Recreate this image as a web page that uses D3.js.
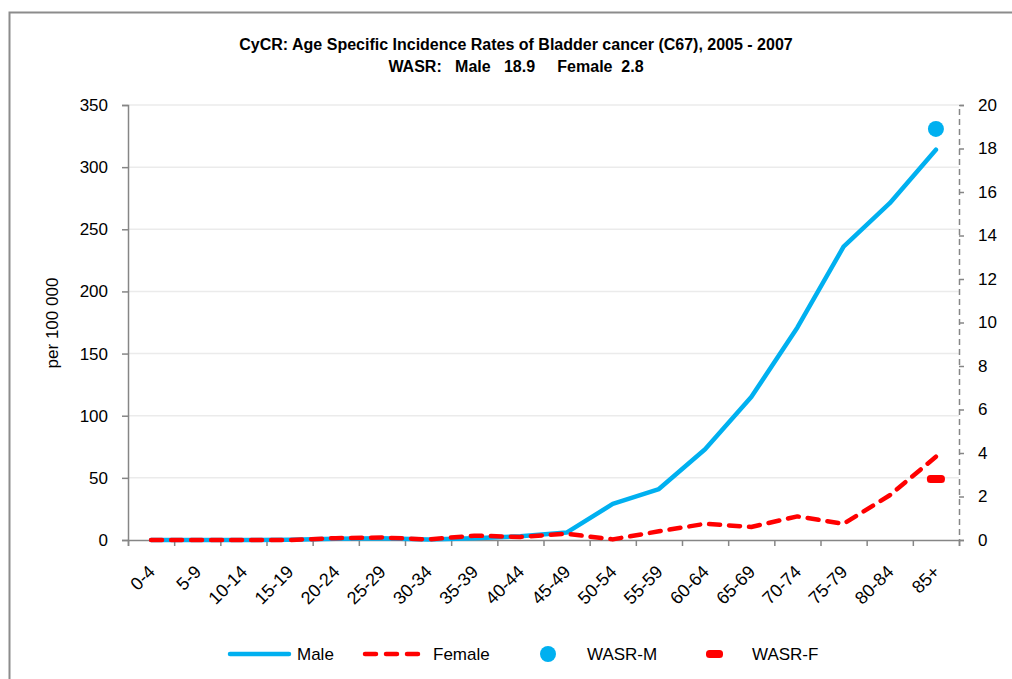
<!DOCTYPE html>
<html>
<head>
<meta charset="utf-8">
<script src="https://cdn.jsdelivr.net/npm/d3@7"></script>
<style>
  body { margin: 0; background: #fff; }
  svg text { font-family: "Liberation Sans", Arial, sans-serif; fill: #000; }
</style>
</head>
<body>
<div id="chart"></div>
<script>
// Data
var ageGroups = ["0-4", "5-9", "10-14", "15-19", "20-24", "25-29", "30-34", "35-39", "40-44",
    "45-49", "50-54", "55-59", "60-64", "65-69", "70-74", "75-79", "80-84", "85+"];
var maleRates = [0, 0, 0, 0.3, 1, 1.5, 0.5, 1.5, 3, 6, 29, 41, 73, 115, 171, 236, 271, 314];
var femaleRates = [0, 0, 0, 0, 1.5, 2, 0.5, 3.5, 2.5, 5, 0.5, 7, 13, 10.5, 19, 13, 36, 67];
var wasrMale = 18.9;
var wasrFemale = 2.8;
var leftTicks = [0, 50, 100, 150, 200, 250, 300, 350];
var rightTicks = [0, 2, 4, 6, 8, 10, 12, 14, 16, 18, 20];

var width = 1012, height = 679;
var plot = {left: 128, right: 959, top: 105, bottom: 540};
var blue = "#00b0f0", red = "#ff0000", axisGrey = "#868686";

var svg = d3.select("#chart").append("svg")
    .attr("width", width)
    .attr("height", height);

svg.append("rect").attr("width", width).attr("height", height).attr("fill", "#fff");

// outer frame (right and bottom edges fall outside the picture)
svg.append("rect")
    .attr("x", 9.5).attr("y", 12.5)
    .attr("width", 1100).attr("height", 800)
    .attr("fill", "none")
    .attr("stroke", "#8c8c8c")
    .attr("stroke-width", 2);

var x = d3.scaleBand().domain(ageGroups).range([plot.left, plot.right]);
var xEdges = d3.scaleLinear().domain([0, ageGroups.length]).range([plot.left, plot.right]);
var yLeft = d3.scaleLinear().domain([0, 350]).range([plot.bottom, plot.top]);
var yRight = d3.scaleLinear().domain([0, 20]).range([plot.bottom, plot.top]);

function cx(d) { return x(d) + x.bandwidth() / 2; }

// Title
svg.append("text")
    .attr("x", 516).attr("y", 50)
    .attr("text-anchor", "middle")
    .style("font-weight", "bold").style("font-size", "16px")
    .text("CyCR:  Age Specific Incidence Rates of Bladder cancer (C67), 2005 - 2007");
svg.append("text")
    .attr("x", 516).attr("y", 72)
    .attr("text-anchor", "middle")
    .style("font-weight", "bold").style("font-size", "16px")
    .attr("xml:space", "preserve")
    .text("WASR:   Male   18.9     Female  2.8");

// Gridlines
svg.append("g").selectAll("line")
    .data(leftTicks.slice(1))
    .join("line")
    .attr("x1", plot.left).attr("x2", plot.right)
    .attr("y1", function(d) { return yLeft(d); })
    .attr("y2", function(d) { return yLeft(d); })
    .attr("stroke", "#ebebeb")
    .attr("stroke-width", 1.5);

// Left axis
var gLeft = svg.append("g")
    .attr("transform", "translate(" + plot.left + ",0)")
    .call(d3.axisLeft(yLeft).tickValues(leftTicks).tickSize(6).tickPadding(14));
gLeft.selectAll("path, line").attr("stroke", axisGrey).attr("stroke-width", 1.5);
gLeft.selectAll("text").style("font-size", "17px").style("font-family", "Liberation Sans, Arial, sans-serif").attr("fill", "#000");

svg.append("text")
    .attr("transform", "translate(58,323) rotate(-90)")
    .attr("text-anchor", "middle")
    .style("font-size", "17px")
    .text("per 100 000");

// Right axis, dashed
var gRight = svg.append("g")
    .attr("transform", "translate(" + plot.right + ",0)")
    .call(d3.axisRight(yRight).tickValues(rightTicks).tickSize(5).tickPadding(14));
gRight.selectAll("path, line").attr("stroke", axisGrey).attr("stroke-width", 1.5);
gRight.select(".domain").attr("stroke-dasharray", "6,4");
gRight.selectAll("text").style("font-size", "17px").style("font-family", "Liberation Sans, Arial, sans-serif").attr("fill", "#000");

// Bottom axis: ticks between categories
var gBottom = svg.append("g")
    .attr("transform", "translate(0," + plot.bottom + ")")
    .call(d3.axisBottom(xEdges).tickValues(d3.range(ageGroups.length + 1)).tickSize(6).tickFormat(""));
gBottom.selectAll("path, line").attr("stroke", axisGrey).attr("stroke-width", 1.5);

svg.append("g").selectAll("text")
    .data(ageGroups)
    .join("text")
    .attr("text-anchor", "end")
    .attr("transform", function(d) { return "translate(" + (cx(d) + 5) + "," + 573 + ") rotate(-45)"; })
    .style("font-size", "18px")
    .text(function(d) { return d; });

// Lines
var rateLine = d3.line()
    .x(function(d, i) { return cx(ageGroups[i]); })
    .y(function(d) { return yLeft(d); });

svg.append("path")
    .datum(maleRates)
    .attr("d", rateLine)
    .attr("fill", "none")
    .attr("stroke", blue)
    .attr("stroke-width", 4.5)
    .attr("stroke-linecap", "round")
    .attr("stroke-linejoin", "round");

svg.append("path")
    .datum(femaleRates)
    .attr("d", rateLine)
    .attr("fill", "none")
    .attr("stroke", red)
    .attr("stroke-width", 4.5)
    .attr("stroke-dasharray", "11,9")
    .attr("stroke-linecap", "round")
    .attr("stroke-linejoin", "round");

// WASR markers (right axis)
var last = ageGroups[ageGroups.length - 1];
svg.append("circle")
    .attr("cx", cx(last)).attr("cy", yRight(wasrMale))
    .attr("r", 8)
    .attr("fill", blue);
svg.append("rect")
    .attr("x", cx(last) - 9).attr("y", yRight(wasrFemale) - 4)
    .attr("width", 18).attr("height", 8)
    .attr("rx", 3.5)
    .attr("fill", red);

// Legend
var legendY = 654;
var legend = svg.append("g");
legend.append("line")
    .attr("x1", 230).attr("x2", 289).attr("y1", legendY).attr("y2", legendY)
    .attr("stroke", blue).attr("stroke-width", 4.5).attr("stroke-linecap", "round");
legend.append("text").attr("x", 297).attr("y", legendY + 6).style("font-size", "17px").text("Male");

legend.append("line")
    .attr("x1", 365).attr("x2", 420).attr("y1", legendY).attr("y2", legendY)
    .attr("stroke", red).attr("stroke-width", 4.5).attr("stroke-linecap", "round")
    .attr("stroke-dasharray", "11,10");
legend.append("text").attr("x", 433).attr("y", legendY + 6).style("font-size", "17px").text("Female");

legend.append("circle").attr("cx", 548).attr("cy", legendY).attr("r", 8).attr("fill", blue);
legend.append("text").attr("x", 587).attr("y", legendY + 6).style("font-size", "17px").text("WASR-M");

legend.append("rect").attr("x", 706).attr("y", legendY - 4).attr("width", 17).attr("height", 8)
    .attr("rx", 3.5).attr("fill", red);
legend.append("text").attr("x", 752).attr("y", legendY + 6).style("font-size", "17px").text("WASR-F");
</script>
</body>
</html>
